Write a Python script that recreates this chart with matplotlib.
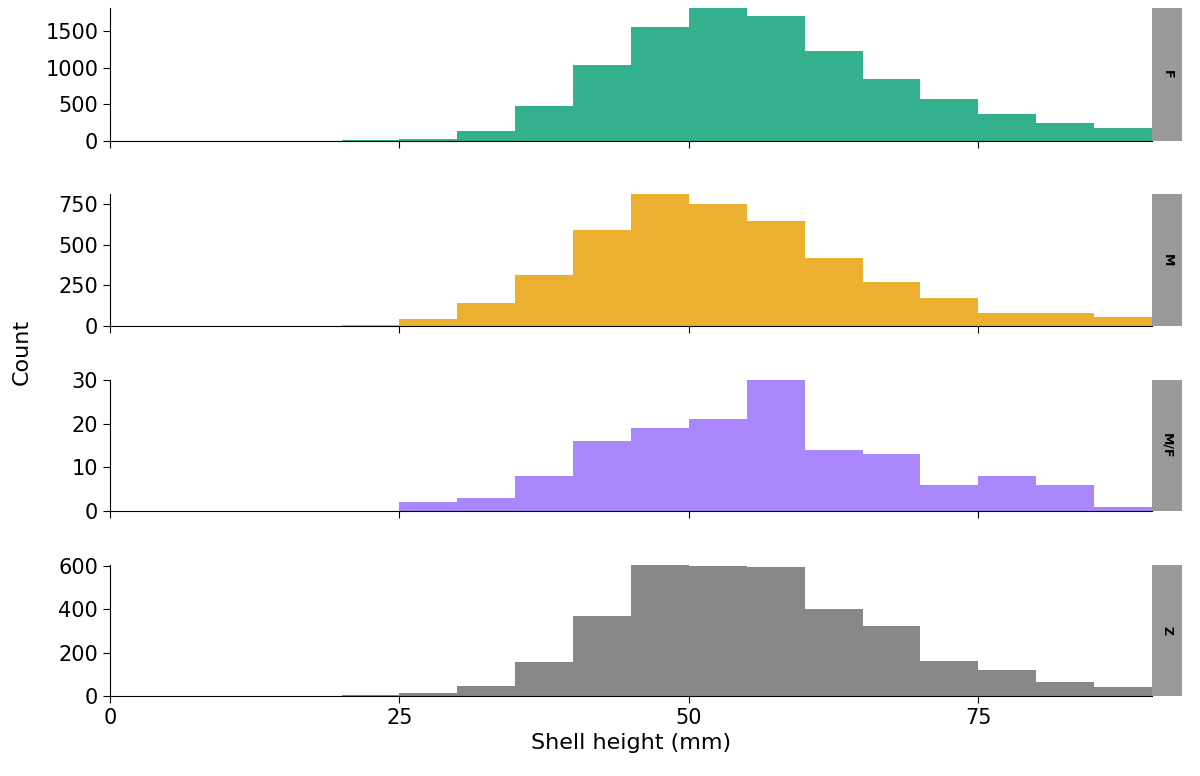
import matplotlib
matplotlib.use("Agg")
import matplotlib.pyplot as plt

bin_left = [0, 5, 10, 15, 20, 25, 30, 35, 40, 45, 50, 55, 60, 65, 70, 75, 80, 85]
bin_width = 5

counts_f = [0, 0, 0, 0, 10, 30, 130, 470, 1040, 1550, 1810, 1700, 1230, 850, 570, 370, 240, 180]
counts_m = [0, 0, 0, 0, 8, 45, 140, 310, 590, 810, 750, 645, 420, 270, 170, 80, 80, 55]
counts_mf = [0, 0, 0, 0, 0, 2, 3, 8, 16, 19, 21, 30, 14, 13, 6, 8, 6, 1]
counts_z = [0, 0, 0, 0, 5, 15, 45, 155, 370, 605, 600, 595, 400, 325, 160, 120, 65, 40]

panels = [
    ("F", counts_f, "#33b08d", [0, 500, 1000, 1500]),
    ("M", counts_m, "#ebb030", [0, 250, 500, 750]),
    ("M/F", counts_mf, "#aa87fc", [0, 10, 20, 30]),
    ("Z", counts_z, "#888888", [0, 200, 400, 600]),
]
x_ticks = [0, 25, 50, 75]

fig = plt.figure(figsize=(12, 7.76), dpi=100)
W, H = 1200, 776
left, right = 110, 1152
tops = [8, 194, 380, 565]
bottoms = [141, 326, 511, 696]

for i, (name, counts, color, yt) in enumerate(panels):
    ax = fig.add_axes([left / W, 1 - bottoms[i] / H, (right - left) / W, (bottoms[i] - tops[i]) / H])
    ax.bar(bin_left, counts, width=bin_width, align="edge", color=color, linewidth=0)
    ax.set_xlim(0, 90)
    ax.set_ylim(0, max(counts))
    ax.set_yticks(yt)
    ax.set_xticks(x_ticks)
    ax.tick_params(labelsize=15, direction="out", length=5, color="black")
    if i < 3:
        ax.set_xticklabels([])
    for s in ["top", "right"]:
        ax.spines[s].set_visible(False)
    # strip
    sax = fig.add_axes([right / W, 1 - bottoms[i] / H, 30 / W, (bottoms[i] - tops[i]) / H])
    sax.set_facecolor("#999999")
    sax.set_xticks([])
    sax.set_yticks([])
    for s in sax.spines.values():
        s.set_visible(False)
    sax.text(0.5, 0.5, name, rotation=-90, ha="center", va="center",
             fontsize=9, fontweight="bold", transform=sax.transAxes)
    if i == 3:
        ax.set_xlabel("Shell height (mm)", fontsize=16)

fig.text(22 / W, 1 - 352 / H, "Count", rotation=90, ha="center", va="center", fontsize=16)
fig.savefig("out.png", dpi=100)
